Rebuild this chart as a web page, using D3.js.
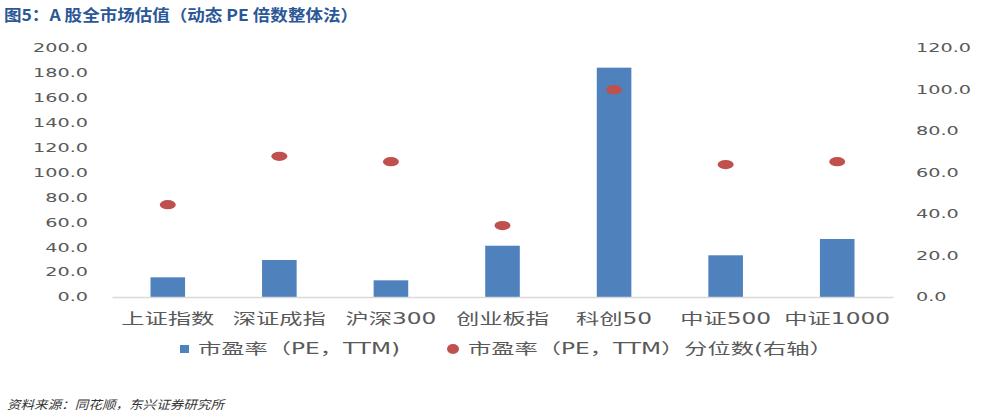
<!DOCTYPE html>
<html>
<head>
<meta charset="utf-8">
<script src="https://cdn.jsdelivr.net/npm/d3@7"></script>
<style>
  body { margin: 0; background: #fff; }
  svg { display: block; }
</style>
</head>
<body>
<div id="chart"></div>
<script>
// data
var categories = ["上证指数", "深证成指", "沪深300", "创业板指", "科创50", "中证500", "中证1000"];
var peValues = [15.8, 29.7, 13.4, 41.2, 184.2, 33.5, 46.6];
var pctValues = [44.5, 67.8, 65.2, 34.4, 99.9, 63.8, 65.2];
var leftTicks = [0, 20, 40, 60, 80, 100, 120, 140, 160, 180, 200];
var rightTicks = [0, 20, 40, 60, 80, 100, 120];
var seriesNames = ["市盈率（PE，TTM)", "市盈率（PE，TTM）分位数(右轴）"];

var svgWidth = 995, svgHeight = 415;
var plot = { left: 112, right: 893, top: 48, bottom: 297 };

var barColor = "#4F81BD", dotColor = "#C0504D", textColor = "#595959";
var latinCjk = "'DejaVu Sans', 'Noto Sans CJK SC', sans-serif";

var svg = d3.select("#chart").append("svg")
    .attr("width", svgWidth)
    .attr("height", svgHeight);

// the picture is stretched sideways, so stretch the text the same way
function stretch(sel, k) {
    sel.each(function() {
        var w = this.getComputedTextLength();
        d3.select(this).attr("textLength", w * k).attr("lengthAdjust", "spacingAndGlyphs");
    });
}

//scales
var x = d3.scaleBand()
    .domain(categories)
    .range([plot.left, plot.right])
    .paddingInner(0.69)
    .paddingOuter(0.345);

var yLeft = d3.scaleLinear().domain([0, 200]).range([plot.bottom, plot.top]);
var yRight = d3.scaleLinear().domain([0, 120]).range([plot.bottom, plot.top]);

//title
svg.append("text")
    .attr("x", 4)
    .attr("y", 14)
    .attr("dominant-baseline", "central")
    .attr("font-family", "'Noto Sans CJK SC', sans-serif")
    .attr("font-weight", "bold")
    .attr("font-size", "16px")
    .attr("fill", "#2B5797")
    .text("图5：A 股全市场估值（动态 PE 倍数整体法）")
    .attr("textLength", 354)
    .attr("lengthAdjust", "spacingAndGlyphs");

//left axis
var leftAxis = svg.append("g")
    .attr("transform", `translate(${plot.left},0)`)
    .call(d3.axisLeft(yLeft).tickValues(leftTicks).tickSize(0).tickPadding(24).tickFormat(d3.format(".1f")));
leftAxis.select(".domain").remove();
leftAxis.selectAll("text")
    .attr("font-family", latinCjk)
    .attr("font-size", "12px")
    .attr("fill", textColor)
    .call(stretch, 1.6);

//right axis
var rightAxis = svg.append("g")
    .attr("transform", `translate(${plot.right},0)`)
    .call(d3.axisRight(yRight).tickValues(rightTicks).tickSize(0).tickPadding(23).tickFormat(d3.format(".1f")));
rightAxis.select(".domain").remove();
rightAxis.selectAll("text")
    .attr("font-family", latinCjk)
    .attr("font-size", "12px")
    .attr("fill", textColor)
    .call(stretch, 1.6);

//bars
svg.selectAll(".bar")
    .data(peValues)
    .enter()
    .append("rect")
    .attr("class", "bar")
    .attr("x", (d, i) => x(categories[i]))
    .attr("y", d => yLeft(d))
    .attr("width", x.bandwidth())
    .attr("height", d => yLeft(0) - yLeft(d))
    .attr("fill", barColor);

//bottom axis line + category labels
var bottomAxis = svg.append("g")
    .attr("transform", `translate(0,${plot.bottom})`)
    .call(d3.axisBottom(x).tickSize(0).tickPadding(16));
bottomAxis.select(".domain")
    .attr("stroke", "#D9D9D9")
    .attr("stroke-width", 1.5);
bottomAxis.selectAll("text")
    .attr("font-family", latinCjk)
    .attr("font-size", "15px")
    .attr("fill", textColor)
    .call(stretch, 1.55);

//percentile dots
svg.selectAll(".dot")
    .data(pctValues)
    .enter()
    .append("ellipse")
    .attr("class", "dot")
    .attr("cx", (d, i) => x(categories[i]) + x.bandwidth() / 2)
    .attr("cy", d => yRight(d))
    .attr("rx", 8)
    .attr("ry", 4.6)
    .attr("fill", dotColor);

//legend
var legend = svg.append("g");
legend.append("rect")
    .attr("x", 180).attr("y", 345)
    .attr("width", 9).attr("height", 8)
    .attr("fill", barColor);
legend.append("text")
    .attr("x", 198).attr("y", 349)
    .attr("dominant-baseline", "central")
    .attr("font-family", latinCjk)
    .attr("font-size", "15px")
    .attr("fill", textColor)
    .text(seriesNames[0])
    .call(stretch, 1.55);
legend.append("ellipse")
    .attr("cx", 453).attr("cy", 349)
    .attr("rx", 6).attr("ry", 5)
    .attr("fill", dotColor);
legend.append("text")
    .attr("x", 468).attr("y", 349)
    .attr("dominant-baseline", "central")
    .attr("font-family", latinCjk)
    .attr("font-size", "15px")
    .attr("fill", textColor)
    .text(seriesNames[1])
    .call(stretch, 1.55);

//source note
svg.append("text")
    .attr("x", 7).attr("y", 403)
    .attr("dominant-baseline", "central")
    .attr("font-family", "'Noto Sans CJK SC', sans-serif")
    .attr("font-style", "italic")
    .attr("font-size", "12px")
    .attr("fill", "#333")
    .text("资料来源：同花顺，东兴证券研究所")
    .attr("textLength", 217)
    .attr("lengthAdjust", "spacingAndGlyphs");
</script>
</body>
</html>
